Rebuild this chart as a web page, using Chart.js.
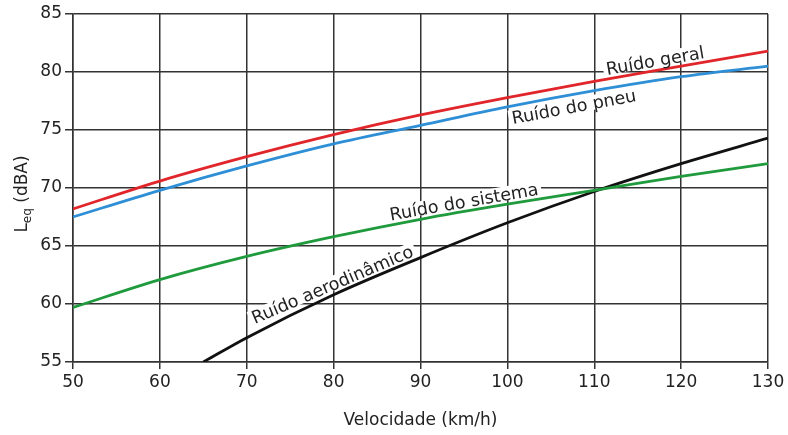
<!DOCTYPE html>
<html><head><meta charset="utf-8">
<script src="https://cdn.jsdelivr.net/npm/chart.js@4"></script>
<style>html,body{margin:0;padding:0;background:#fff}</style>
</head><body>
<canvas id="c" width="788" height="435"></canvas>
<script>
// Data
const speeds = [50, 60, 70, 80, 90, 100, 110, 120, 130];
const ruidoGeral   = [68.2, 70.6, 72.7, 74.6, 76.3, 77.8, 79.2, 80.5, 81.8];
const ruidoPneu    = [67.5, 69.8, 71.9, 73.8, 75.4, 77.0, 78.4, 79.6, 80.5];
const ruidoSistema = [59.7, 62.1, 64.1, 65.8, 67.3, 68.6, 69.8, 71.0, 72.1];
const aeroSpeeds   = [65, 70, 80, 90, 100, 110, 120, 130];
const ruidoAero    = [55.0, 57.1, 60.8, 64.0, 67.0, 69.7, 72.1, 74.3];
const seriesNames  = ['Ruído geral', 'Ruído do pneu', 'Ruído do sistema', 'Ruído aerodinâmico'];
const labelAt      = [117.2, 107.4, 95.2, 80.3];
const labelSide    = ['above', 'below', 'above', 'above'];

const FONT = '"DejaVu Sans", sans-serif';
const TXT = '#222';
const GRID = '#333';

const pts = (xs, ys) => xs.map((x, i) => ({x, y: ys[i]}));

const curveLabelPlugin = {
  id: 'curveLabels',
  afterDatasetsDraw(chart) {
    const ctx = chart.ctx;
    const xs = chart.scales.x;
    chart.data.datasets.forEach((ds, di) => {
      const meta = chart.getDatasetMeta(di);
      const px = xs.getPixelForValue(labelAt[di]);
      const els = meta.data;
      let k = 0;
      while (k < els.length - 2 && els[k + 1].x < px) k++;
      const a = els[k], b = els[k + 1];
      const t = (px - a.x) / (b.x - a.x);
      const py = a.y + t * (b.y - a.y);
      const ang = Math.atan2(b.y - a.y, b.x - a.x);
      ctx.save();
      ctx.translate(px, py);
      ctx.rotate(ang);
      ctx.font = '17.5px ' + FONT;
      const w = ctx.measureText(seriesNames[di]).width;
      ctx.textAlign = 'center';
      ctx.textBaseline = 'alphabetic';
      if (labelSide[di] === 'above') {
        ctx.fillStyle = '#fff';
        ctx.fillRect(-w / 2 - 3, -18, w + 6, 14);
        ctx.fillStyle = TXT;
        ctx.fillText(seriesNames[di], 0, -4);
      } else {
        ctx.fillStyle = '#fff';
        ctx.fillRect(-w / 2 - 3, 4, w + 6, 15);
        ctx.fillStyle = TXT;
        ctx.fillText(seriesNames[di], 0, 18);
      }
      ctx.restore();
    });
  }
};

const yTitlePlugin = {
  id: 'yTitle',
  afterDraw(chart) {
    const ctx = chart.ctx;
    ctx.save();
    ctx.translate(21, 194);
    ctx.rotate(-Math.PI / 2);
    ctx.fillStyle = TXT;
    ctx.textBaseline = 'alphabetic';
    ctx.font = '17px ' + FONT;
    const wL = ctx.measureText('L').width;
    const wR = ctx.measureText(' (dBA)').width;
    ctx.font = '12px ' + FONT;
    const wS = ctx.measureText('eq').width;
    let x0 = -(wL + wS + wR) / 2;
    ctx.font = '17px ' + FONT;
    ctx.fillText('L', x0, 6);
    ctx.font = '12px ' + FONT;
    ctx.fillText('eq', x0 + wL, 10);
    ctx.font = '17px ' + FONT;
    ctx.fillText(' (dBA)', x0 + wL + wS, 6);
    ctx.restore();
  }
};

const common = {borderWidth: 2.8, pointRadius: 0, fill: false, cubicInterpolationMode: 'monotone'};

new Chart(document.getElementById('c'), {
  type: 'line',
  data: {
    datasets: [
      {...common, label: seriesNames[0], data: pts(speeds, ruidoGeral), borderColor: '#e0262b'},
      {...common, label: seriesNames[1], data: pts(speeds, ruidoPneu), borderColor: '#2e8fd6'},
      {...common, label: seriesNames[2], data: pts(speeds, ruidoSistema), borderColor: '#1f9a3c'},
      {...common, label: seriesNames[3], data: pts(aeroSpeeds, ruidoAero), borderColor: '#111'}
    ]
  },
  options: {
    responsive: false,
    animation: false,
    devicePixelRatio: 1,
    layout: {padding: {top: 14, right: 20, left: 0, bottom: 0}},
    plugins: {legend: {display: false}, tooltip: {enabled: false}},
    scales: {
      x: {
        type: 'linear', min: 50, max: 130,
        ticks: {stepSize: 10, color: TXT, font: {family: FONT, size: 17}, padding: 3, maxRotation: 0},
        grid: {color: GRID, lineWidth: 1.5, tickLength: 7},
        border: {color: GRID, width: 1.5},
        title: {display: true, text: 'Velocidade (km/h)', color: TXT, font: {family: FONT, size: 17}, padding: {top: 6}},
        afterFit(s) { s.height = 73; }
      },
      y: {
        min: 55, max: 85,
        ticks: {stepSize: 5, color: TXT, font: {family: FONT, size: 17}, padding: 3},
        grid: {color: GRID, lineWidth: 1.5, tickLength: 8},
        border: {color: GRID, width: 1.5},
        afterFit(s) { s.width = 73; }
      }
    }
  },
  plugins: [curveLabelPlugin, yTitlePlugin]
});
</script>
</body></html>
